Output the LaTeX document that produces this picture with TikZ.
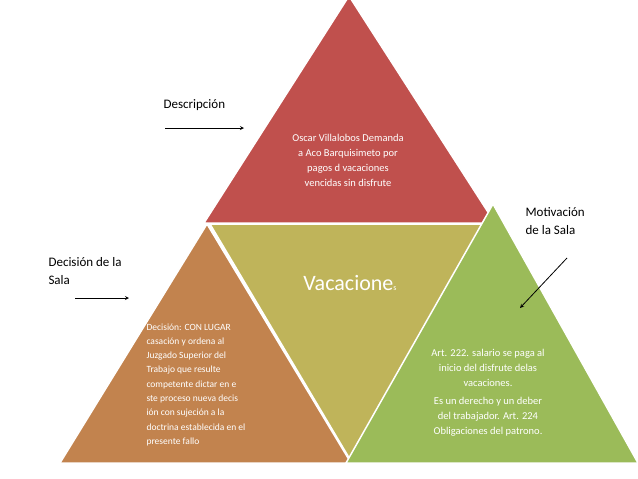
\documentclass[tikz,border=0pt]{standalone}
\usepackage{fontspec}
\setmainfont{Carlito}
\begin{document}
\begin{tikzpicture}[x=1pt,y=-1pt,
  tri/.style={draw=white,line width=1.5pt},
  wt/.style={text=white,align=center,font=\fontsize{10.5}{15}\selectfont},
  lbl/.style={align=left,anchor=north west,font=\fontsize{13}{18}\selectfont},
  arr/.style={-stealth,line width=0.8pt}]
\useasboundingbox (0,0) rectangle (638,479);
\fill[white] (0,0) rectangle (638,479);
\filldraw[tri,fill={rgb,255:red,192;green,80;blue,77}] (349,-4) -- (495,223) -- (204,223) -- cycle;
\filldraw[tri,fill={rgb,255:red,194;green,131;blue,78}] (207,224) -- (351,463) -- (60,463) -- cycle;
\filldraw[tri,fill={rgb,255:red,191;green,180;blue,90}] (210,224) -- (491,224) -- (351,461) -- cycle;
\filldraw[tri,fill={rgb,255:red,155;green,187;blue,89}] (493,204) -- (638,463) -- (346,463) -- cycle;
\node[wt] (top) at (348,160) {Oscar Villalobos Demanda\\a Aco Barquisimeto por\\pagos d vacaciones\\vencidas sin disfrute};
\node[text=white,font=\fontsize{22}{26}\selectfont] (mid) at (350,283) {Vacacione{\fontsize{8}{8}\selectfont s}};
\node[text=white,align=left,anchor=north west,font=\fontsize{9.5}{14.3}\selectfont] (left) at (143,320) {Decisión: CON LUGAR\\casación y ordena al\\Juzgado Superior del\\Trabajo que resulte\\competente dictar en e\\ste proceso nueva decis\\ión con sujeción a la\\doctrina establecida en el\\presente fallo};
\node[wt] (right) at (488,393) {Art. 222. salario se paga al\\inicio del disfrute delas\\vacaciones.\\[3pt]Es un derecho y un deber\\del trabajador. Art. 224\\Obligaciones del patrono.};
\node[lbl] (d1) at (160,96) {Descripción};
\node[lbl] (d2) at (45,254) {Decisión de la\\Sala};
\node[lbl] (d3) at (522,204) {Motivación\\de la Sala};
\coordinate (a1) at (165,128); \coordinate (b1) at (244,128);
\coordinate (a2) at (75,298); \coordinate (b2) at (129,298);
\coordinate (a3) at (567,258); \coordinate (b3) at (520,308);
\draw[arr] (a1) -- (b1);
\draw[arr] (a2) -- (b2);
\draw[arr] (a3) -- (b3);
\end{tikzpicture}
\end{document}
